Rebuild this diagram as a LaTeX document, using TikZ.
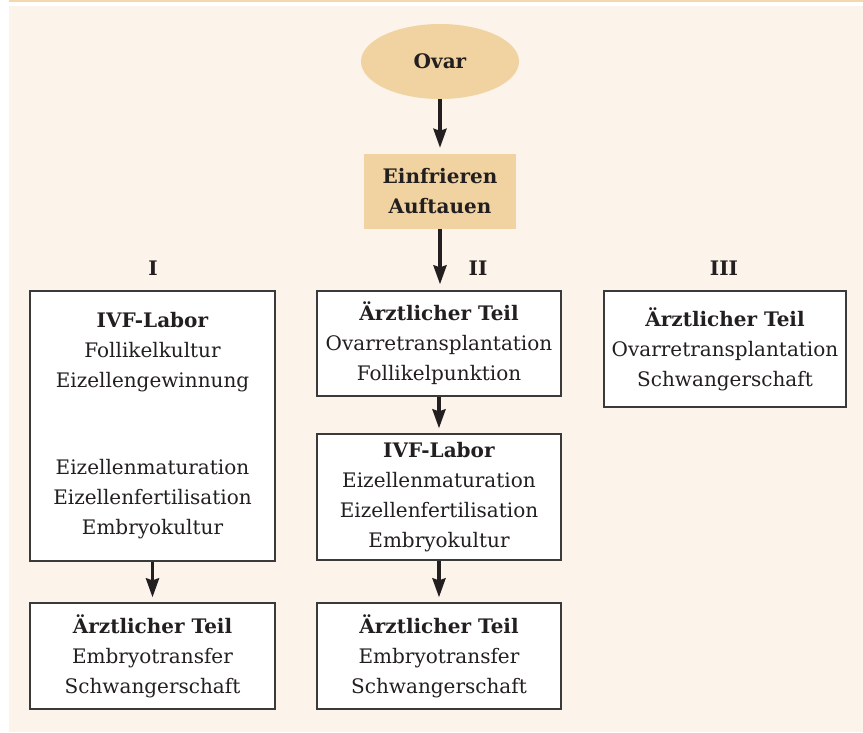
\documentclass[tikz,border=0pt]{standalone}
\usepackage{fontspec}
\setmainfont{DejaVu Serif}
\usetikzlibrary{arrows.meta,shapes.geometric}
\definecolor{cream}{HTML}{FCF3EA}
\definecolor{tan}{HTML}{F0D3A1}
\definecolor{ink}{HTML}{231F20}
\definecolor{frame}{HTML}{3A3A3A}
\definecolor{topline}{HTML}{F3D8AC}
\tikzset{
  txt/.style={font=\fontsize{20}{30}\selectfont, text=ink, align=center, inner sep=0pt},
  wbox/.style={txt, draw=frame, line width=1.3pt, fill=white, rectangle},
  flow/.style={draw=ink, line width=3.5pt, -{Stealth[length=19pt,width=13pt,inset=2pt]}, shorten >=6pt},
  roman/.style={txt, font=\fontsize{20}{24}\selectfont\bfseries}
}
\begin{document}
\begin{tikzpicture}[x=1pt,y=-1pt]
\useasboundingbox (0,0) rectangle (863,732);
\fill[white] (0,0) rectangle (863,732);
\fill[cream] (9,6) rectangle (863,732);
\fill[topline] (9,0) rectangle (863,2);

\node[txt, ellipse, fill=tan, minimum width=158pt, minimum height=75pt, font=\fontsize{20}{30}\selectfont\bfseries] (ovar) at (440,61.5) {Ovar};
\node[txt, fill=tan, minimum width=152pt, minimum height=75pt, font=\fontsize{20}{30}\selectfont\bfseries] (frz) at (440,191.5) {Einfrieren\\Auftauen};

\node[roman] (l1) at (153,268) {I};
\node[roman] (l2) at (478,268) {II};
\node[roman] (l3) at (724,268) {III};

\node[wbox, minimum width=245pt, minimum height=270pt] (b1a) at (152.5,426)
  {\textbf{IVF-Labor}\\Follikelkultur\\Eizellengewinnung\\[57pt]Eizellenmaturation\\Eizellenfertilisation\\Embryokultur};
\node[wbox, minimum width=245pt, minimum height=106pt] (b1b) at (152.5,656)
  {\textbf{Ärztlicher Teil}\\Embryotransfer\\Schwangerschaft};

\node[wbox, minimum width=244pt, minimum height=105pt] (b2a) at (439,343.5)
  {\textbf{Ärztlicher Teil}\\Ovarretransplantation\\Follikelpunktion};
\node[wbox, minimum width=244pt, minimum height=126pt] (b2b) at (439,497)
  {\textbf{IVF-Labor}\\Eizellenmaturation\\Eizellenfertilisation\\Embryokultur};
\node[wbox, minimum width=244pt, minimum height=106pt] (b2c) at (439,656)
  {\textbf{Ärztlicher Teil}\\Embryotransfer\\Schwangerschaft};

\node[wbox, minimum width=242pt, minimum height=116pt] (b3) at (725,349)
  {\textbf{Ärztlicher Teil}\\Ovarretransplantation\\Schwangerschaft};

\draw[flow] (ovar.south) -- (frz.north);
\draw[flow] (frz.south) -- (b2a.north -| frz.south);
\draw[flow, shorten >=5pt] (b2a.south) -- (b2b.north);
\draw[flow, shorten >=5pt] (b2b.south) -- (b2c.north);
\draw[flow, shorten >=5pt] (b1a.south) -- (b1b.north);
\end{tikzpicture}
\end{document}
